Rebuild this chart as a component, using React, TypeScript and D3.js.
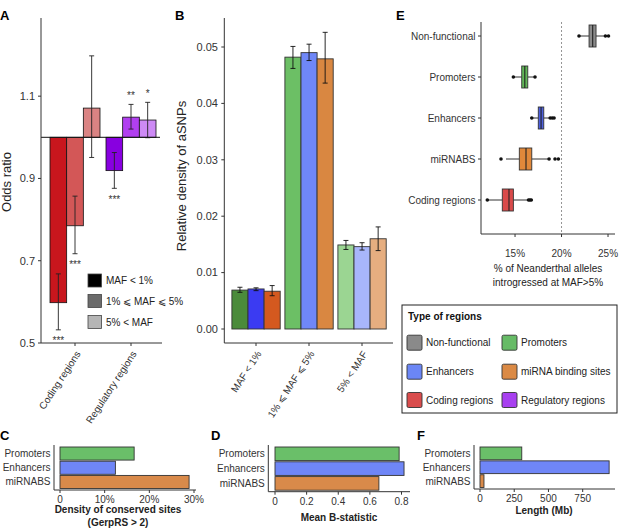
import React from "react";
import * as d3 from "d3";

const FONT = "'Liberation Sans', Arial, Helvetica, sans-serif";
const AXIS = "#333333";

// ---------- Panel A data ----------
const oddsCategories = ["Coding regions", "Regulatory regions"];
const mafClasses = ["MAF < 1%", "1% ⩽ MAF ⩽ 5%", "5% < MAF"];
const oddsCoding = [0.598, 0.785, 1.071];
const oddsCodingLo = [0.532, 0.717, 0.951];
const oddsCodingHi = [0.668, 0.857, 1.198];
const oddsRegulatory = [0.919, 1.049, 1.042];
const oddsRegulatoryLo = [0.876, 1.02, 0.999];
const oddsRegulatoryHi = [0.963, 1.08, 1.085];
const starsCoding = ["***", "***", ""];
const starsRegulatory = ["***", "**", "*"];
const oddsTicks = [0.5, 0.7, 0.9, 1.1];
const codingColors = ["#c8161d", "#d35757", "#da8383"];
const regulatoryColors = ["#8800e0", "#b13ff0", "#cd8af5"];
const mafLegendColors = ["#000000", "#6b6b6b", "#b5b5b5"];

// ---------- Panel B data ----------
const densityBins = ["MAF < 1%", "1% ⩽ MAF ⩽ 5%", "5% < MAF"];
const regionTypes = ["Promoters", "Enhancers", "miRNABS"];
const densityPromoters = [0.0069, 0.0482, 0.0149];
const densityPromotersLo = [0.0065, 0.0462, 0.0141];
const densityPromotersHi = [0.0074, 0.0501, 0.0157];
const densityEnhancers = [0.0071, 0.049, 0.0146];
const densityEnhancersLo = [0.0068, 0.0476, 0.014];
const densityEnhancersHi = [0.0073, 0.0505, 0.0153];
const densityMirnabs = [0.0067, 0.0479, 0.016];
const densityMirnabsLo = [0.0059, 0.0436, 0.0139];
const densityMirnabsHi = [0.0077, 0.0526, 0.0181];
const densityTicks = [0, 0.01, 0.02, 0.03, 0.04, 0.05];
const densityTickLabels = ["0.00", "0.01", "0.02", "0.03", "0.04", "0.05"];
const densityColors = [
  ["#4b8b3b", "#3b3bf2", "#d4591f"],
  ["#6cbf65", "#6f87f8", "#d98741"],
  ["#9bd592", "#a8b6fb", "#e6ae80"],
];

// ---------- Panel E data ----------
const boxCategories = ["Non-functional", "Promoters", "Enhancers", "miRNABS", "Coding regions"];
const boxLow = [21.95, 14.85, 16.85, 14.03, 12.05];
const boxQ1 = [22.96, 15.72, 17.5, 15.46, 13.63];
const boxMedian = [23.35, 16.05, 17.8, 16.18, 14.35];
const boxQ3 = [23.71, 16.37, 18.09, 16.8, 14.82];
const boxHigh = [24.6, 17.1, 18.7, 18.66, 16.4];
const boxOutliers = [
  [21.88, 24.72, 25.05],
  [14.82, 17.15],
  [16.8, 18.78, 19.0, 19.2],
  [13.49, 18.66, 19.3, 19.66],
  [12.02, 16.45, 16.6, 16.75],
];
const boxColors = ["#8a8a8a", "#62b858", "#4d60e0", "#e0883a", "#d94a4a"];
const introTicks = [15, 20, 25];
const introTickLabels = ["15%", "20%", "25%"];

// ---------- Legend ----------
const legendLabels = ["Non-functional", "Promoters", "Enhancers", "miRNA binding sites", "Coding regions", "Regulatory regions"];
const legendColors = ["#8a8a8a", "#66bb66", "#6b86f5", "#db8a45", "#d94c4c", "#a840f0"];

// ---------- Panels C, D, F ----------
const conservedDensity = [16.6, 12.4, 28.9];
const conservedTicks = [0, 10, 20, 30];
const conservedTickLabels = ["0", "10%", "20%", "30%"];
const meanBStat = [0.785, 0.816, 0.657];
const bTicks = [0, 0.2, 0.4, 0.6, 0.8];
const bTickLabels = ["0", "0.2", "0.4", "0.6", "0.8"];
const lengthMb = [305, 943, 29];
const lengthTicks = [0, 250, 500, 750];
const lengthTickLabels = ["0", "250", "500", "750"];
const smallBarColors = ["#6abf69", "#6f86f7", "#d98a4a"];

function PanelA() {
  const y = d3.scaleLinear().domain([0.5, 1.29]).range([343, 18]);
  const x0 = d3.scaleBand().domain(oddsCategories).range([47, 159]);
  const x1 = d3.scaleBand().domain(mafClasses).range([3, 53]);
  const groups = [
    { cat: oddsCategories[0], v: oddsCoding, lo: oddsCodingLo, hi: oddsCodingHi, s: starsCoding, c: codingColors },
    { cat: oddsCategories[1], v: oddsRegulatory, lo: oddsRegulatoryLo, hi: oddsRegulatoryHi, s: starsRegulatory, c: regulatoryColors },
  ];
  const y1 = y(1);
  return (
    <g>
      <text x={0} y={20} fontSize={13} fontWeight="bold">A</text>
      {groups.map((g) =>
        g.v.map((v, i) => {
          const bx = (x0(g.cat) as number) + (x1(mafClasses[i]) as number);
          const bw = x1.bandwidth();
          const cx = bx + bw / 2;
          const top = Math.min(y(v), y1);
          const h = Math.abs(y(v) - y1);
          const starY = v < 1 ? y(g.lo[i]) + 14.5 : y(g.hi[i]) - 5;
          return (
            <g key={g.cat + i}>
              <rect x={bx} y={top} width={bw} height={h} fill={g.c[i]} stroke="#111" strokeWidth={0.8} />
              <line x1={cx} x2={cx} y1={y(g.lo[i])} y2={y(g.hi[i])} stroke="#222" strokeWidth={0.9} />
              <line x1={cx - 2.5} x2={cx + 2.5} y1={y(g.lo[i])} y2={y(g.lo[i])} stroke="#222" strokeWidth={0.9} />
              <line x1={cx - 2.5} x2={cx + 2.5} y1={y(g.hi[i])} y2={y(g.hi[i])} stroke="#222" strokeWidth={0.9} />
              {g.s[i] && (
                <text x={cx} y={starY} fontSize={10} textAnchor="middle" fill="#333">{g.s[i]}</text>
              )}
            </g>
          );
        })
      )}
      <line x1={41} x2={160} y1={y1} y2={y1} stroke="#111" strokeWidth={1} />
      <line x1={41} x2={41} y1={18} y2={343} stroke={AXIS} />
      <line x1={41} x2={162} y1={343} y2={343} stroke={AXIS} />
      {oddsTicks.map((t) => (
        <g key={t}>
          <line x1={38} x2={41} y1={y(t)} y2={y(t)} stroke={AXIS} />
          <text x={35} y={y(t)} dy="0.35em" fontSize={11} textAnchor="end" fill="#333">{t.toFixed(1)}</text>
        </g>
      ))}
      {oddsCategories.map((c) => {
        const cx = (x0(c) as number) + x0.bandwidth() / 2;
        return (
          <g key={c}>
            <line x1={cx} x2={cx} y1={343} y2={346} stroke={AXIS} />
            <text transform={`translate(${cx + 3},${352}) rotate(-57)`} fontSize={10} textAnchor="end" dy="0.35em" fill="#333">{c}</text>
          </g>
        );
      })}
      <text transform="translate(11,182) rotate(-90)" fontSize={13} textAnchor="middle" fill="#222">Odds ratio</text>
      {mafClasses.map((m, i) => {
        const cy = [280.5, 301, 322][i];
        return (
          <g key={m}>
            <rect x={88} y={cy - 6.5} width={13.5} height={13} fill={mafLegendColors[i]} stroke="#444" strokeWidth={0.8} />
            <text x={106} y={cy} dy="0.35em" fontSize={10} fill="#222">{m}</text>
          </g>
        );
      })}
    </g>
  );
}

function PanelB() {
  const y = d3.scaleLinear().domain([0, 0.05]).range([329, 47]);
  const x0 = d3.scaleBand().domain(densityBins).range([229.5, 388.5]);
  const x1 = d3.scaleBand().domain(regionTypes).range([2.4, 50.7]);
  const series = [
    { v: densityPromoters, lo: densityPromotersLo, hi: densityPromotersHi },
    { v: densityEnhancers, lo: densityEnhancersLo, hi: densityEnhancersHi },
    { v: densityMirnabs, lo: densityMirnabsLo, hi: densityMirnabsHi },
  ];
  return (
    <g>
      <text x={175} y={20} fontSize={13} fontWeight="bold">B</text>
      {densityBins.map((b, bi) =>
        series.map((s, si) => {
          const bx = (x0(b) as number) + (x1(regionTypes[si]) as number);
          const bw = x1.bandwidth();
          const cx = bx + bw / 2;
          return (
            <g key={b + si}>
              <rect x={bx} y={y(s.v[bi])} width={bw} height={y(0) - y(s.v[bi])} fill={densityColors[bi][si]} stroke="#333" strokeWidth={0.9} />
              <line x1={cx} x2={cx} y1={y(s.lo[bi])} y2={y(s.hi[bi])} stroke="#111" strokeWidth={0.9} />
              <line x1={cx - 2.5} x2={cx + 2.5} y1={y(s.lo[bi])} y2={y(s.lo[bi])} stroke="#111" strokeWidth={0.9} />
              <line x1={cx - 2.5} x2={cx + 2.5} y1={y(s.hi[bi])} y2={y(s.hi[bi])} stroke="#111" strokeWidth={0.9} />
            </g>
          );
        })
      )}
      <line x1={224.3} x2={224.3} y1={18} y2={343} stroke={AXIS} />
      <line x1={224.3} x2={393} y1={343} y2={343} stroke={AXIS} />
      {densityTicks.map((t, i) => (
        <g key={t}>
          <line x1={221.3} x2={224.3} y1={y(t)} y2={y(t)} stroke={AXIS} />
          <text x={218} y={y(t)} dy="0.35em" fontSize={11} textAnchor="end" fill="#333">{densityTickLabels[i]}</text>
        </g>
      ))}
      {densityBins.map((b) => {
        const cx = (x0(b) as number) + x0.bandwidth() / 2;
        return (
          <g key={b}>
            <line x1={cx} x2={cx} y1={343} y2={346} stroke={AXIS} />
            <text transform={`translate(${cx + 3},${352}) rotate(-57)`} fontSize={10} textAnchor="end" dy="0.35em" fill="#333">{b}</text>
          </g>
        );
      })}
      <text transform="translate(186,176) rotate(-90)" fontSize={13} textAnchor="middle" fill="#222">Relative density of aSNPs</text>
    </g>
  );
}

function PanelE() {
  const x = d3.scaleLinear().domain([11.34, 25.75]).range([481, 615]);
  const yb = d3.scaleBand().domain(boxCategories).range([15.5, 220.5]);
  const bh = 22;
  return (
    <g>
      <text x={396} y={20} fontSize={13} fontWeight="bold">E</text>
      <line x1={x(20)} x2={x(20)} y1={22} y2={234} stroke="#888" strokeDasharray="2,2" strokeWidth={0.9} />
      {boxCategories.map((c, i) => {
        const cy = (yb(c) as number) + yb.bandwidth() / 2;
        return (
          <g key={c}>
            <line x1={x(boxLow[i])} x2={x(boxQ1[i])} y1={cy} y2={cy} stroke="#333" strokeWidth={1} />
            <line x1={x(boxQ3[i])} x2={x(boxHigh[i])} y1={cy} y2={cy} stroke="#333" strokeWidth={1} />
            <rect x={x(boxQ1[i])} y={cy - bh / 2} width={x(boxQ3[i]) - x(boxQ1[i])} height={bh} fill={boxColors[i]} stroke="#333" strokeWidth={0.9} />
            <line x1={x(boxMedian[i])} x2={x(boxMedian[i])} y1={cy - bh / 2} y2={cy + bh / 2} stroke="#222" strokeWidth={1.1} />
            {boxOutliers[i].map((o, k) => (
              <circle key={k} cx={x(o)} cy={cy} r={1.8} fill="#111" />
            ))}
            <line x1={478} x2={481} y1={cy} y2={cy} stroke={AXIS} />
            <text x={475.5} y={cy} dy="0.35em" fontSize={10} textAnchor="end" fill="#333">{c}</text>
          </g>
        );
      })}
      <line x1={481} x2={481} y1={22} y2={234} stroke={AXIS} />
      <line x1={481} x2={615} y1={234} y2={234} stroke={AXIS} />
      {introTicks.map((t, i) => (
        <g key={t}>
          <line x1={x(t)} x2={x(t)} y1={234} y2={237} stroke={AXIS} />
          <text x={x(t)} y={253} dy="0.35em" fontSize={10} textAnchor="middle" fill="#333">{introTickLabels[i]}</text>
        </g>
      ))}
      <text x={548} y={268} dy="0.35em" fontSize={10} textAnchor="middle" fill="#222">% of Neanderthal alleles</text>
      <text x={548} y={282} dy="0.35em" fontSize={10} textAnchor="middle" fill="#222">introgressed at MAF&gt;5%</text>
    </g>
  );
}

function Legend() {
  const rows = [342.7, 371.7, 400];
  return (
    <g>
      <rect x={402} y={305} width={215} height={108} fill="none" stroke="#222" strokeWidth={1} />
      <text x={408} y={316.7} dy="0.35em" fontSize={10} fontWeight="bold" fill="#111">Type of regions</text>
      {legendLabels.map((l, i) => {
        const col = i % 2;
        const row = Math.floor(i / 2);
        const sx = col === 0 ? 407 : 502;
        const cy = rows[row];
        return (
          <g key={l}>
            <rect x={sx} y={cy - 7.5} width={15} height={15} rx={1.5} fill={legendColors[i]} stroke="#333" strokeWidth={0.9} />
            <text x={sx + 19} y={cy} dy="0.35em" fontSize={10} fill="#222">{l}</text>
          </g>
        );
      })}
    </g>
  );
}

function SmallBar(props: {
  label: string; labelX: number; axisX: number; x: d3.ScaleLinear<number, number>;
  values: number[]; ticks: number[]; tickLabels: string[]; axisEnd: number; axisY: number;
  titles: string[]; titleX: number; titleY: number; tickY: number;
}) {
  const { label, labelX, axisX, x, values, ticks, tickLabels, axisEnd, axisY, titles, titleX, titleY, tickY } = props;
  const yb = d3.scaleBand().domain(regionTypes).range([447, axisY - 1.5]).paddingInner(0.08);
  return (
    <g>
      <text x={labelX} y={440} fontSize={13} fontWeight="bold">{label}</text>
      {regionTypes.map((r, i) => (
        <g key={r}>
          <rect x={x(0)} y={yb(r) as number} width={x(values[i]) - x(0)} height={yb.bandwidth()} fill={smallBarColors[i]} stroke="#333" strokeWidth={0.9} />
          <text x={axisX - 3.5} y={(yb(r) as number) + yb.bandwidth() / 2} dy="0.35em" fontSize={10} textAnchor="end" fill="#333">{r}</text>
        </g>
      ))}
      <line x1={axisX} x2={axisX} y1={445} y2={axisY} stroke={AXIS} />
      <line x1={axisX} x2={axisEnd} y1={axisY} y2={axisY} stroke={AXIS} />
      {ticks.map((t, i) => (
        <g key={t}>
          <line x1={x(t)} x2={x(t)} y1={axisY} y2={axisY + 3} stroke={AXIS} />
          <text x={x(t)} y={tickY} dy="0.35em" fontSize={10} textAnchor="middle" fill="#333">{tickLabels[i]}</text>
        </g>
      ))}
      {titles.map((t, i) => (
        <text key={t} x={titleX} y={titleY + i * 13} dy="0.35em" fontSize={10} fontWeight="bold" textAnchor="middle" fill="#222">{t}</text>
      ))}
    </g>
  );
}

export default function App() {
  const xC = d3.scaleLinear().domain([0, 30]).range([60, 194]);
  const xD = d3.scaleLinear().domain([0, 0.8]).range([275, 401.5]);
  const xF = d3.scaleLinear().domain([0, 750]).range([480, 582.7]);
  return (
    <svg width={619} height={531} style={{ position: "absolute", left: 0, top: 0, background: "#fff" }} fontFamily={FONT}>
      <rect width={619} height={531} fill="#fff" />
      <PanelA />
      <PanelB />
      <PanelE />
      <Legend />
      <SmallBar label="C" labelX={0} axisX={54} x={xC} values={conservedDensity} ticks={conservedTicks} tickLabels={conservedTickLabels}
        axisEnd={196} axisY={490} titles={["Density of  conserved sites", "(GerpRS > 2)"]} titleX={118} titleY={509} tickY={499.5} />
      <SmallBar label="D" labelX={211} axisX={268.3} x={xD} values={meanBStat} ticks={bTicks} tickLabels={bTickLabels}
        axisEnd={410} axisY={491.7} titles={["Mean B-statistic"]} titleX={339} titleY={517} tickY={501} />
      <SmallBar label="F" labelX={417} axisX={474} x={xF} values={lengthMb} ticks={lengthTicks} tickLabels={lengthTickLabels}
        axisEnd={615} axisY={489} titles={["Length (Mb)"]} titleX={544} titleY={510} tickY={498} />
    </svg>
  );
}
